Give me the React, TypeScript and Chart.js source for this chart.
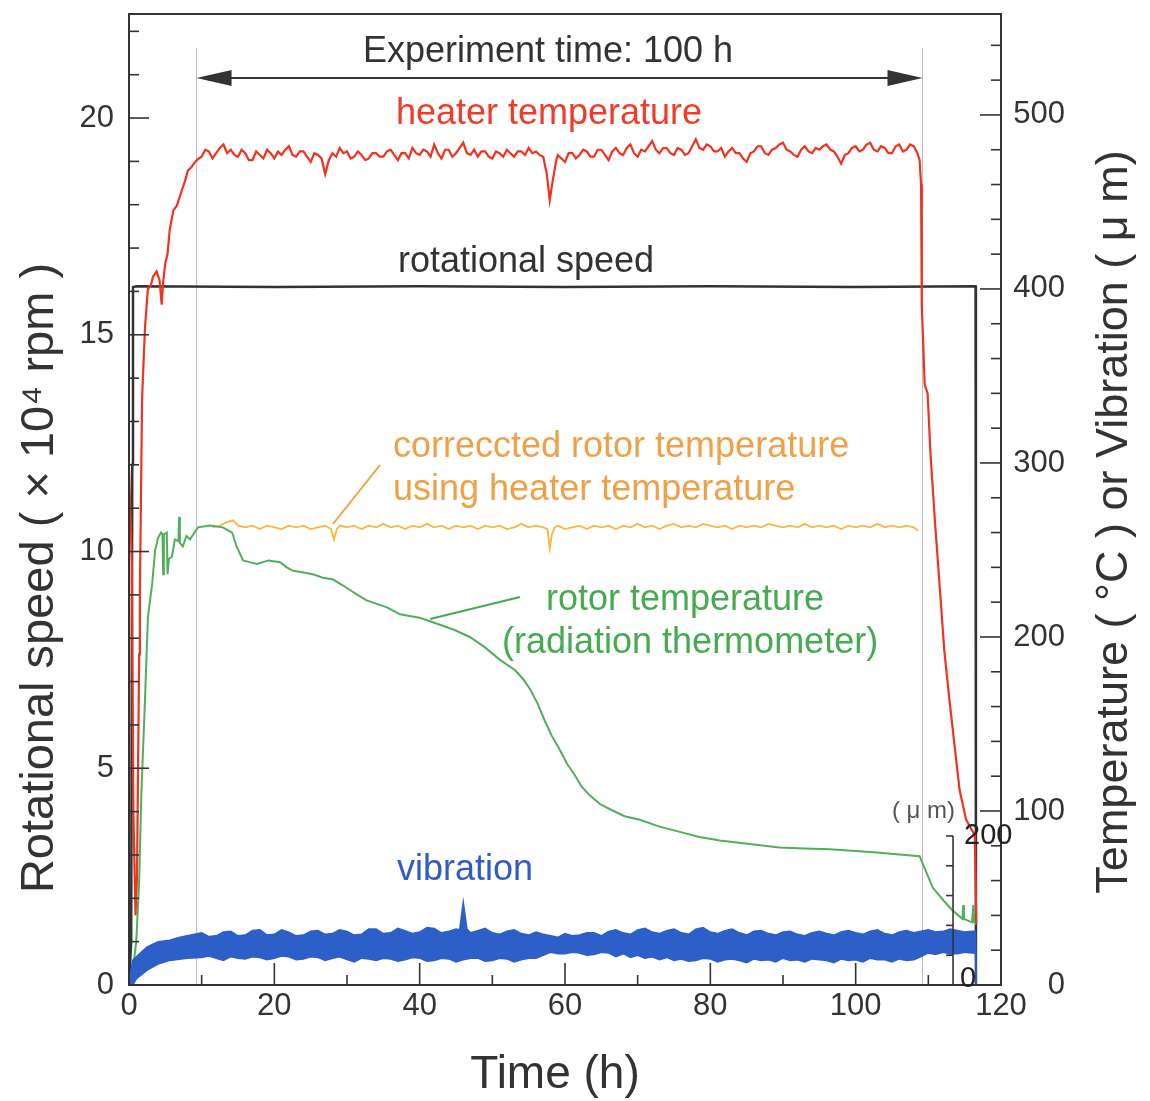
import React, { useEffect, useRef } from 'react';
import { Chart, registerables } from 'chart.js';

Chart.register(...registerables);

const FONT = "'Liberation Sans', Arial, Helvetica, sans-serif";

// ---- tick labels ----
const timeTicks = [0, 20, 40, 60, 80, 100, 120];
const speedTicks = [0, 5, 10, 15, 20];
const tempTicks = [0, 100, 200, 300, 400, 500];
const vibTicks = [0, 200];

// ---- experiment markers (h) ----
const expStart = 9.3;
const expEnd = 109.2;
const vibAxisTime = 113.4;

// ---- series: [time h, value] ----
const rotationalSpeed: [number, number][] = [
  [0, 0], [0.3, 1], [0.45, 12], [0.55, 16.1], [1, 16.12], [20, 16.1], [40, 16.12], [60, 16.1],
  [80, 16.12], [100, 16.1], [116.5, 16.12], [116.55, 0],
];

const heaterTemp: [number, number][] = [
  [0, 297], [0.4, 242], [0.6, 100], [0.9, 40], [1.1, 62], [1.4, 190], [1.5, 226], [1.8, 337],
  [2.2, 378], [2.6, 400], [3.0, 402], [3.3, 407], [3.8, 410], [4.2, 405], [4.5, 391], [4.7, 404],
  [5.0, 415], [5.3, 420], [5.6, 434], [6.1, 445], [6.6, 448], [7.3, 457], [7.7, 462], [8.1, 468],
  [8.6, 470], [9.1, 473], [9.6, 475], [10, 476], [10.5, 480], [11, 479], [11.5, 475], [12, 478],
  [12.5, 481], [13, 483], [13.5, 478], [14, 480], [14.5, 477], [15, 476], [15.5, 480], [16, 478],
  [16.5, 474], [17, 474], [17.5, 479], [18, 477], [18.5, 475], [19, 480], [19.5, 478], [20, 475],
  [20.5, 479], [21, 477], [21.5, 480], [22, 482], [22.5, 477], [23, 476], [23.5, 479], [24, 479],
  [24.5, 476], [25, 473], [25.5, 478], [26, 477], [26.5, 475], [27, 466], [27.5, 474], [28, 478],
  [28.5, 476], [29, 481], [29.5, 478], [30, 479], [30.5, 475], [31, 476], [31.5, 479], [32, 477],
  [32.5, 474], [33, 475], [33.5, 478], [34, 478], [34.5, 476], [35, 476], [35.5, 479], [36, 480],
  [36.5, 477], [37, 474], [37.5, 478], [38, 478], [38.5, 475], [39, 481], [39.5, 478], [40, 477],
  [40.5, 480], [41, 479], [41.5, 476], [42, 483], [42.5, 478], [43, 475], [43.5, 480], [44, 480],
  [44.5, 476], [45, 478], [45.5, 481], [46, 484], [46.5, 478], [47, 477], [47.5, 480], [48, 476],
  [48.5, 479], [49, 479], [49.5, 476], [50, 475], [50.5, 479], [51, 478], [51.5, 476], [52, 480],
  [52.5, 478], [53, 476], [53.5, 479], [54, 479], [54.5, 477], [55, 481], [55.5, 478], [56, 479],
  [56.5, 477], [57, 476], [57.5, 466], [57.9, 451], [58.3, 462], [58.8, 474], [59, 477], [59.5, 475],
  [60, 473], [60.5, 478], [61, 478], [61.5, 475], [62, 477], [62.5, 480], [63, 479], [63.5, 476],
  [64, 476], [64.5, 480], [65, 480], [65.5, 477], [66, 474], [66.5, 479], [67, 481], [67.5, 478],
  [68, 477], [68.5, 481], [69, 483], [69.5, 478], [70, 476], [70.5, 480], [71, 479], [71.5, 482],
  [72, 485], [72.5, 480], [73, 478], [73.5, 481], [74, 481], [74.5, 478], [75, 477], [75.5, 481],
  [76, 480], [76.5, 477], [77, 478], [77.5, 482], [78, 486], [78.5, 481], [79, 480], [79.5, 483],
  [80, 482], [80.5, 479], [81, 479], [81.5, 481], [82, 476], [82.5, 479], [83, 481], [83.5, 478],
  [84, 478], [84.5, 475], [85, 473], [85.5, 478], [86, 479], [86.5, 482], [87, 482], [87.5, 478],
  [88, 477], [88.5, 480], [89, 481], [89.5, 483], [90, 484], [90.5, 480], [91, 479], [91.5, 477],
  [92, 476], [92.5, 480], [93, 482], [93.5, 479], [94, 478], [94.5, 481], [95, 480], [95.5, 482],
  [96, 483], [96.5, 480], [97, 479], [97.5, 476], [98, 472], [98.5, 477], [99, 478], [99.5, 481],
  [100, 482], [100.5, 479], [101, 480], [101.5, 483], [102, 484], [102.5, 480], [103, 479],
  [103.5, 482], [104, 481], [104.5, 478], [105, 478], [105.5, 482], [106, 483], [106.5, 479],
  [107, 480], [107.5, 483], [108, 482], [108.5, 478], [108.8, 474], [109.0, 460], [109.1, 390],
  [109.5, 345], [109.9, 340], [110.3, 305], [110.9, 267], [111.6, 227], [112.2, 192], [112.9, 164],
  [113.6, 138], [114.3, 112], [115.2, 95], [116.4, 86], [116.6, 35],
];

const correctedRotorTemp: [number, number][] = [
  [11.5, 263], [12.5, 264], [13.5, 266], [14.3, 267], [15, 264], [16, 263], [17, 264], [18, 262],
  [19, 264], [20, 263], [21, 262], [22, 264], [23, 263], [24, 264], [25, 262], [26, 263],
  [27, 264], [27.8, 262], [28.2, 256], [28.6, 262], [29, 264], [30, 263], [31, 264], [32, 262],
  [33, 264], [34, 263], [35, 265], [36, 263], [37, 264], [38, 262], [39, 264], [40, 263],
  [41, 265], [42, 263], [43, 264], [44, 262], [45, 264], [46, 263], [47, 264], [48, 262],
  [49, 264], [50, 263], [51, 264], [52, 262], [53, 263], [54, 265], [55, 263], [56, 264],
  [57, 263], [57.6, 262], [57.9, 251], [58.2, 259], [58.6, 263], [59, 264], [60, 262], [61, 263],
  [62, 264], [63, 262], [64, 264], [65, 263], [66, 264], [67, 262], [68, 264], [69, 263],
  [70, 265], [71, 263], [72, 264], [73, 262], [74, 264], [75, 265], [76, 263], [77, 264],
  [78, 263], [79, 265], [80, 264], [81, 263], [82, 264], [83, 262], [84, 264], [85, 263],
  [86, 264], [87, 263], [88, 265], [89, 264], [90, 263], [91, 264], [92, 263], [93, 265],
  [94, 263], [95, 264], [96, 263], [97, 264], [98, 262], [99, 264], [100, 263], [101, 264],
  [102, 263], [103, 265], [104, 263], [105, 264], [106, 263], [107, 264], [108, 263], [108.6, 261],
];

const rotorTemp: [number, number][] = [
  [0, 0], [0.5, 8], [1.0, 25], [1.4, 60], [1.7, 110], [2.2, 164], [2.6, 211], [3.2, 231],
  [3.6, 250], [4.0, 257], [4.4, 260], [4.6, 259], [4.7, 236], [4.8, 259], [5.2, 260], [5.3, 236],
  [5.5, 245], [5.9, 246], [6.3, 256], [6.8, 255], [6.9, 269], [7.0, 254], [7.4, 252], [7.9, 258],
  [8.4, 256], [9.0, 260], [9.5, 263], [11.1, 264], [12.9, 263], [14.2, 260], [14.8, 252],
  [15.7, 244], [16.6, 243], [17.6, 242], [19.2, 244], [20.8, 243], [21.7, 240], [22.6, 238],
  [24.0, 237], [25.3, 236], [26.7, 234], [28.1, 233], [29.3, 230], [30.4, 227], [31.5, 224],
  [32.7, 221], [34.1, 219], [35.5, 217], [37.3, 213], [38.6, 212], [40, 211], [41.4, 209],
  [42.8, 207], [44.8, 204], [46.9, 200], [49.0, 194], [51, 187], [53.1, 181], [54.2, 176],
  [55.2, 170], [56.2, 162], [57.2, 152], [58.2, 143], [59.3, 135], [60.3, 127], [61.3, 121],
  [62.3, 114], [63.4, 109], [64.8, 104], [66.2, 101], [68.2, 97], [70.3, 95], [73.0, 91],
  [75.8, 88], [78.5, 85], [81.3, 83], [85.4, 81], [89.5, 79], [93.0, 78.5], [96.4, 78],
  [100, 77], [103.3, 76], [106, 75], [108.8, 74], [109.5, 67], [110.6, 56], [112, 49],
  [113.3, 43], [114.7, 38], [114.8, 46], [114.9, 38], [116.0, 36], [116.2, 46], [116.3, 36],
  [116.6, 35],
];

const vibrationUpper: [number, number][] = [
  [0, 0], [0.3, 20], [0.5, 33], [1, 38], [2.5, 51], [4, 58], [5.6, 60], [7, 64], [10, 70],
  [11, 65], [12, 66], [13, 71], [14, 72], [15, 66], [16, 67], [17, 73], [18, 74], [19, 67],
  [20, 68], [21, 74], [22, 71], [23, 66], [24, 67], [25, 72], [26, 73], [27, 68], [28, 69],
  [29, 74], [30, 72], [31, 67], [32, 68], [33, 75], [34, 75], [35, 69], [36, 70], [37, 76],
  [38, 73], [39, 69], [40, 71], [41, 77], [42, 76], [43, 70], [44, 72], [45, 75], [45.5, 74],
  [46, 111], [46.5, 75], [47, 70], [48, 73], [49, 76], [50, 70], [51, 68], [52, 72], [53, 74],
  [54, 69], [55, 67], [56, 71], [57, 68], [58, 66], [59, 64], [60, 69], [61, 66], [62, 67],
  [63, 70], [64, 70], [65, 66], [66, 72], [67, 74], [68, 70], [69, 68], [70, 74], [71, 76],
  [72, 71], [73, 69], [74, 73], [75, 75], [76, 70], [77, 68], [78, 75], [79, 77], [80, 71],
  [81, 69], [82, 73], [83, 75], [84, 70], [85, 67], [86, 72], [87, 73], [88, 69], [89, 67],
  [90, 71], [91, 72], [92, 68], [93, 66], [94, 70], [95, 72], [96, 69], [97, 67], [98, 71],
  [99, 73], [100, 70], [101, 68], [102, 72], [103, 74], [104, 69], [105, 67], [106, 71],
  [107, 73], [108, 70], [109, 72], [110, 74], [111, 71], [112, 72], [113, 75], [114, 73],
  [115, 71], [116, 72], [116.5, 72], [116.6, 0],
];

const vibrationLower: [number, number][] = [
  [0, 0], [0.5, 0], [1, 8], [2.5, 20], [4, 28], [5.6, 33], [8, 36], [10, 37], [11, 39],
  [12, 36], [13, 33], [14, 38], [15, 36], [16, 35], [17, 38], [18, 37], [19, 34], [20, 36],
  [21, 39], [22, 38], [23, 34], [24, 35], [25, 38], [26, 37], [27, 33], [28, 36], [29, 38],
  [30, 34], [31, 31], [32, 36], [33, 35], [34, 33], [35, 36], [36, 35], [37, 32], [38, 34],
  [39, 37], [40, 36], [41, 32], [42, 33], [43, 36], [44, 35], [45, 31], [46, 34], [47, 36],
  [48, 36], [49, 32], [50, 33], [51, 36], [52, 35], [53, 31], [54, 34], [55, 36], [56, 36],
  [57, 40], [58, 44], [59, 42], [60, 42], [61, 44], [62, 43], [63, 40], [64, 41], [65, 44],
  [66, 43], [67, 38], [68, 42], [69, 37], [70, 40], [71, 36], [72, 38], [73, 34], [74, 37],
  [75, 33], [76, 35], [77, 32], [78, 33], [79, 36], [80, 35], [81, 31], [82, 34], [83, 35],
  [84, 33], [85, 30], [86, 35], [87, 33], [88, 34], [89, 31], [90, 36], [91, 33], [92, 34],
  [93, 31], [94, 35], [95, 34], [96, 33], [97, 30], [98, 35], [99, 33], [100, 34], [101, 31],
  [102, 36], [103, 34], [104, 34], [105, 31], [106, 35], [107, 33], [108, 34], [109, 38],
  [110, 43], [111, 41], [112, 44], [113, 42], [114, 42], [115, 44], [116, 43], [116.5, 43],
  [116.6, 0],
];

const COLORS = {
  speed: '#333333',
  heater: 'rgb(240,50,30)',
  corrected: 'rgb(245,185,60)',
  rotor: 'rgb(80,175,90)',
  vib: 'rgb(45,95,200)',
  heaterText: 'rgb(238,60,40)',
  correctedText: 'rgb(240,160,70)',
  rotorText: 'rgb(70,170,80)',
  vibText: 'rgb(50,90,200)',
  axis: '#333333',
};

const toXY = (arr: [number, number][]) => arr.map(([x, y]) => ({ x, y }));

function line(ctx: CanvasRenderingContext2D, x1: number, y1: number, x2: number, y2: number) {
  ctx.beginPath();
  ctx.moveTo(x1, y1);
  ctx.lineTo(x2, y2);
  ctx.stroke();
}

const decorPlugin = {
  id: 'decor',
  beforeDatasetsDraw(chart: any) {
    const { ctx, chartArea: ca, scales } = chart;
    ctx.save();
    ctx.strokeStyle = '#bdbdbd';
    ctx.lineWidth = 1;
    [expStart, expEnd].forEach((t) => {
      const px = scales.x.getPixelForValue(t);
      line(ctx, px, 48, px, ca.bottom);
    });
    ctx.restore();
  },
  afterDatasetsDraw(chart: any) {
    const { ctx, chartArea: ca, scales } = chart;
    const { x, y, y2, yv } = scales;
    ctx.save();
    ctx.strokeStyle = COLORS.axis;
    ctx.lineWidth = 2;
    ctx.strokeRect(ca.left, ca.top, ca.right - ca.left, ca.bottom - ca.top);

    ctx.lineWidth = 1.6;
    // left axis ticks (every 1, major every 5)
    for (let i = 0; i <= 22; i++) {
      const py = y.getPixelForValue(i);
      line(ctx, ca.left, py, ca.left + (i % 5 === 0 ? 20 : 10), py);
    }
    // right axis ticks (every 20, major every 100)
    for (let i = 0; i <= 27; i++) {
      const v = i * 20;
      const py = y2.getPixelForValue(v);
      line(ctx, ca.right, py, ca.right - (v % 100 === 0 ? 21 : 10), py);
    }
    // bottom ticks (every 10, major every 20)
    for (let i = 0; i <= 12; i++) {
      const v = i * 10;
      const px = x.getPixelForValue(v);
      line(ctx, px, ca.bottom, px, ca.bottom - (v % 20 === 0 ? 22 : 10));
    }
    // inner vibration axis
    const vx = x.getPixelForValue(vibAxisTime);
    line(ctx, vx, yv.getPixelForValue(0), vx, yv.getPixelForValue(200));
    for (let i = 0; i <= 5; i++) {
      const py = yv.getPixelForValue(i * 40);
      line(ctx, vx - 7, py, vx, py);
    }
    ctx.fillStyle = '#222';
    ctx.font = `29px ${FONT}`;
    ctx.textBaseline = 'middle';
    ctx.textAlign = 'left';
    ctx.fillText(String(vibTicks[1]), vx + 11, yv.getPixelForValue(vibTicks[1]));
    ctx.fillText(String(vibTicks[0]), vx + 7, yv.getPixelForValue(vibTicks[0]) - 6);
    ctx.fillStyle = '#555';
    ctx.font = `24px ${FONT}`;
    ctx.textAlign = 'right';
    ctx.fillText('( \u03bc m)', vx + 2, yv.getPixelForValue(200) - 25);

    // experiment arrow
    const ax1 = x.getPixelForValue(expStart);
    const ax2 = x.getPixelForValue(expEnd);
    const ay = 78;
    ctx.strokeStyle = '#333';
    ctx.fillStyle = '#333';
    ctx.lineWidth = 2;
    line(ctx, ax1 + 20, ay, ax2 - 20, ay);
    ctx.beginPath();
    ctx.moveTo(ax1, ay);
    ctx.lineTo(ax1 + 35, ay - 8);
    ctx.lineTo(ax1 + 35, ay + 8);
    ctx.closePath();
    ctx.fill();
    ctx.beginPath();
    ctx.moveTo(ax2, ay);
    ctx.lineTo(ax2 - 35, ay - 8);
    ctx.lineTo(ax2 - 35, ay + 8);
    ctx.closePath();
    ctx.fill();

    // leader lines
    ctx.lineWidth = 2;
    ctx.strokeStyle = COLORS.correctedText;
    line(ctx, 333, 524, 380, 465);
    ctx.strokeStyle = COLORS.rotorText;
    line(ctx, 430, 619, 520, 597);

    // annotation texts
    const txt = (s: string, px: number, py: number, color: string, align: CanvasTextAlign) => {
      ctx.fillStyle = color;
      ctx.textAlign = align;
      ctx.textBaseline = 'middle';
      ctx.fillText(s, px, py);
    };
    ctx.font = `36px ${FONT}`;
    txt('Experiment time: 100 h', 548, 52, '#333', 'center');
    txt('heater temperature', 549, 114, COLORS.heaterText, 'center');
    txt('rotational speed', 526, 262, '#333', 'center');
    txt('correccted rotor temperature', 393, 447, COLORS.correctedText, 'left');
    txt('using heater temperature', 393, 490, COLORS.correctedText, 'left');
    txt('rotor temperature', 546, 600, COLORS.rotorText, 'left');
    txt('(radiation thermometer)', 502, 643, COLORS.rotorText, 'left');
    txt('vibration', 397, 870, COLORS.vibText, 'left');

    // axis titles
    ctx.fillStyle = '#333';
    ctx.textAlign = 'center';
    ctx.textBaseline = 'middle';
    ctx.font = `46px ${FONT}`;
    ctx.fillText('Time (h)', 555, 1075);

    ctx.save();
    ctx.translate(40, 578);
    ctx.rotate(-Math.PI / 2);
    ctx.font = `47px ${FONT}`;
    ctx.fillText('Rotational speed ( \u00d7 10\u2074 rpm )', 0, 0);
    ctx.restore();

    ctx.save();
    ctx.translate(1115, 522);
    ctx.rotate(-Math.PI / 2);
    ctx.font = `45px ${FONT}`;
    ctx.fillText('Temperature ( \u00b0C ) or Vibration ( \u03bc m)', 0, 0);
    ctx.restore();

    ctx.restore();
  },
};

export default function App() {
  const ref = useRef<HTMLCanvasElement | null>(null);

  useEffect(() => {
    if (!ref.current) return;
    const lineDs = (data: [number, number][], color: string, axis: string, width = 2) => ({
      data: toXY(data),
      borderColor: color,
      backgroundColor: color,
      borderWidth: width,
      pointRadius: 0,
      tension: 0,
      yAxisID: axis,
      fill: false,
    });
    const tickFont = { size: 31, family: FONT };
    const chart = new Chart(ref.current, {
      type: 'line',
      data: {
        datasets: [
          { ...lineDs(vibrationUpper, COLORS.vib, 'yv', 1.5), fill: '+1' },
          lineDs(vibrationLower, COLORS.vib, 'yv', 1.5),
          lineDs(rotorTemp, COLORS.rotor, 'y2', 2),
          lineDs(correctedRotorTemp, COLORS.corrected, 'y2', 1.8),
          lineDs(heaterTemp, COLORS.heater, 'y2', 2.2),
          lineDs(rotationalSpeed, COLORS.speed, 'y', 2.5),
        ] as any,
      },
      options: {
        responsive: false,
        animation: false,
        devicePixelRatio: 1,
        layout: { padding: { top: 14, left: 0, right: 85, bottom: 0 } },
        plugins: { legend: { display: false }, tooltip: { enabled: false } },
        scales: {
          x: {
            type: 'linear',
            position: 'bottom',
            min: 0,
            max: 120,
            afterBuildTicks: (s: any) => { s.ticks = timeTicks.map((v) => ({ value: v })); },
            afterFit: (s: any) => { s.height = 116; s.paddingLeft = 0; s.paddingRight = 0; },
            grid: { display: false, drawTicks: false },
            border: { display: false },
            ticks: { font: tickFont, color: '#333', padding: 3, maxRotation: 0, autoSkip: false },
          },
          y: {
            type: 'linear',
            position: 'left',
            min: 0,
            max: 22.4,
            afterBuildTicks: (s: any) => { s.ticks = speedTicks.map((v) => ({ value: v })); },
            afterFit: (s: any) => { s.width = 129; s.paddingTop = 0; s.paddingBottom = 0; },
            grid: { display: false, drawTicks: false },
            border: { display: false },
            ticks: { font: tickFont, color: '#333', padding: 15 },
          },
          y2: {
            type: 'linear',
            position: 'right',
            min: 0,
            max: 558,
            afterBuildTicks: (s: any) => { s.ticks = tempTicks.map((v) => ({ value: v })); },
            afterFit: (s: any) => { s.width = 64; s.paddingTop = 0; s.paddingBottom = 0; },
            grid: { display: false, drawTicks: false },
            border: { display: false },
            ticks: { font: tickFont, color: '#333', padding: 10, crossAlign: 'far' },
          },
          yv: {
            type: 'linear',
            display: false,
            min: 0,
            max: 1303,
          },
        },
      } as any,
      plugins: [decorPlugin],
    });
    return () => chart.destroy();
  }, []);

  return (
    <div style={{ position: 'absolute', left: 0, top: 0, width: 1150, height: 1101, background: '#fff' }}>
      <canvas ref={ref} width={1150} height={1101} style={{ display: 'block' }} />
    </div>
  );
}
